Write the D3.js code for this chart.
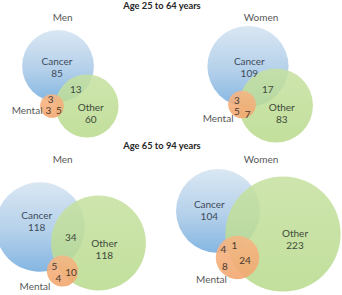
<!DOCTYPE html>
<html>
<head>
<meta charset="utf-8">
<script src="https://cdn.jsdelivr.net/npm/d3@7"></script>
<style>
  body { margin: 0; background: #fff; }
  svg { display: block; font-family: Lato, "Open Sans", sans-serif; }
</style>
</head>
<body>
<div id="chart"></div>
<script>
// age groups and panels
var groupTitles = ["Age 25 to 64 years", "Age 65 to 94 years"];
var panelNames = ["Men", "Women", "Men", "Women"];

// set sizes (used for circle area)
var cancerSize = [101, 129, 157, 138];
var otherSize = [78, 107, 176, 260];
var mentalSize = [11, 15, 19, 37];

// region counts shown in the diagrams (null = not shown)
var cancerOnly = [85, 109, 118, 104];
var otherOnly = [60, 83, 118, 223];
var cancerOther = [13, 17, 34, null];
var cancerMental = [3, 3, 5, 4];
var mentalOnly = [3, 5, 4, 8];
var mentalOther = [5, 7, 10, 24];
var allThree = [null, null, null, 1];

// layout: circle centres and label spots for each panel
var layout = [
  { title: [62.7, 17.7], cancer: [58, 66], other: [87, 106], mental: [52, 106],
    cancerLbl: [57, 61], otherLbl: [90.7, 107], mentalLbl: [42.5, 110, "end"],
    co: [75.7, 89.3], cm: [50.7, 99.5], m: [48.3, 110], mo: [59, 110], all: null },
  { title: [261, 17.7], cancer: [248, 66.5], other: [276, 105.5], mental: [242, 104.5],
    cancerLbl: [249.3, 61], otherLbl: [281.7, 107], mentalLbl: [233.5, 118.3, "end"],
    co: [267.7, 89], cm: [237, 100], m: [237, 111.7], mo: [247.7, 114], all: null },
  { title: [62.7, 159], cancer: [40, 227], other: [98.5, 243], mental: [62.5, 271],
    cancerLbl: [36.7, 215], otherLbl: [104.3, 243.3], mentalLbl: [35, 286, "middle"],
    co: [70.7, 237.3], cm: [54.3, 266.7], m: [58.3, 278.3], mo: [71, 272.7], all: null },
  { title: [261, 159], cancer: [218, 211], other: [283, 234], mental: [237.5, 257.5],
    cancerLbl: [209.3, 204], otherLbl: [295, 233.3], mentalLbl: [211.5, 279.3, "middle"],
    co: null, cm: [223.3, 249.3], m: [225, 266.7], mo: [245, 260], all: [234.3, 245] }
];
var groupTitlePos = [[162, 5.7], [162, 146]];

var width = 342, height = 295;
var svg = d3.select("#chart").append("svg")
  .attr("width", width).attr("height", height);

var r = d3.scaleSqrt().domain([0, 250]).range([0, 56.5]);

var defs = svg.append("defs");
var gb = defs.append("linearGradient").attr("id", "gBlue")
  .attr("x1", 0).attr("y1", 0).attr("x2", 0).attr("y2", 1);
gb.append("stop").attr("offset", "0%").attr("stop-color", "#dae7f3");
gb.append("stop").attr("offset", "55%").attr("stop-color", "#b4d0ea");
gb.append("stop").attr("offset", "100%").attr("stop-color", "#84b6e2");
var gg = defs.append("linearGradient").attr("id", "gGreen")
  .attr("x1", 0).attr("y1", 0).attr("x2", 0).attr("y2", 1);
gg.append("stop").attr("offset", "0%").attr("stop-color", "#c6e1a0");
gg.append("stop").attr("offset", "100%").attr("stop-color", "#b8da8c");
var go = defs.append("linearGradient").attr("id", "gOrange")
  .attr("x1", 0).attr("y1", 0).attr("x2", 0).attr("y2", 1);
go.append("stop").attr("offset", "0%").attr("stop-color", "#f7b684");
go.append("stop").attr("offset", "100%").attr("stop-color", "#f3a46c");

svg.selectAll("text.group").data(groupTitles).enter().append("text")
  .attr("class", "group")
  .attr("x", function (d, i) { return groupTitlePos[i][0]; })
  .attr("y", function (d, i) { return groupTitlePos[i][1]; })
  .attr("dy", "0.35em")
  .attr("text-anchor", "middle")
  .attr("font-size", 9.3).attr("font-weight", "bold").attr("fill", "#262626")
  .text(function (d) { return d; });

var panels = svg.selectAll("g.panel").data(panelNames).enter().append("g")
  .attr("class", "panel");

panels.each(function (name, i) {
  var g = d3.select(this);
  var L = layout[i];

  g.append("circle")
    .attr("cx", L.cancer[0]).attr("cy", L.cancer[1])
    .attr("r", r(cancerSize[i]))
    .attr("fill", "url(#gBlue)");
  g.append("circle")
    .attr("cx", L.other[0]).attr("cy", L.other[1])
    .attr("r", r(otherSize[i]))
    .attr("fill", "url(#gGreen)").attr("opacity", 0.86);
  g.append("circle")
    .attr("cx", L.mental[0]).attr("cy", L.mental[1])
    .attr("r", r(mentalSize[i]))
    .attr("fill", "url(#gOrange)").attr("opacity", 0.88);

  function label(pos, txt, color, anchor) {
    if (!pos || txt === null) return;
    g.append("text")
      .attr("x", pos[0]).attr("y", pos[1]).attr("dy", "0.35em")
      .attr("text-anchor", anchor || "middle")
      .attr("font-size", 10).attr("fill", color)
      .text(txt);
  }

  label(L.title, name, "#595959");
  label(L.cancerLbl, "Cancer", "#3d4a5a");
  label([L.cancerLbl[0], L.cancerLbl[1] + 12.5], cancerOnly[i], "#3d4a5a");
  label(L.otherLbl, "Other", "#3d4a3a");
  label([L.otherLbl[0], L.otherLbl[1] + 12.5], otherOnly[i], "#3d4a3a");
  label(L.mentalLbl, "Mental", "#595959", L.mentalLbl[2]);
  label(L.co, cancerOther[i], "#3d4a3a");
  label(L.cm, cancerMental[i], "#4a3a30");
  label(L.m, mentalOnly[i], "#4a3a30");
  label(L.mo, mentalOther[i], "#4a3a30");
  label(L.all, allThree[i], "#4a3a30");
});
</script>
</body>
</html>
